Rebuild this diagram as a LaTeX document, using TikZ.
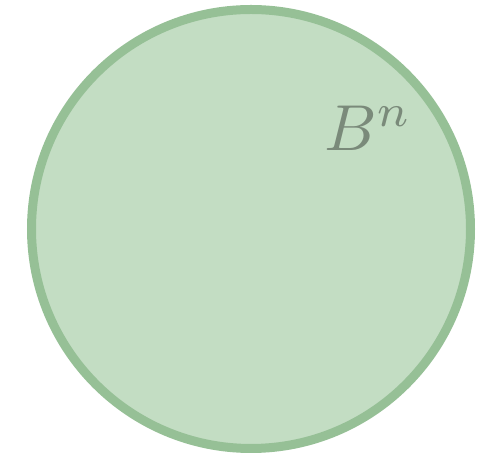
\documentclass[tikz,border=0pt]{standalone}
\definecolor{ballfill}{RGB}{195,221,195}
\definecolor{balledge}{RGB}{150,192,150}
\definecolor{balllabel}{RGB}{122,138,122}
\usetikzlibrary{positioning}

\begin{document}
\begin{tikzpicture}[x=1pt,y=1pt]
\useasboundingbox (0,0) rectangle (493,454);
% The ball
\coordinate (centre) at (251,225);
\filldraw[fill=ballfill, draw=balledge, line width=9pt] (centre) circle (219.5);
% Label
\node[text=balllabel, scale=6.5] (label) at (368,326) {$B^n$};
\end{tikzpicture}
\end{document}
